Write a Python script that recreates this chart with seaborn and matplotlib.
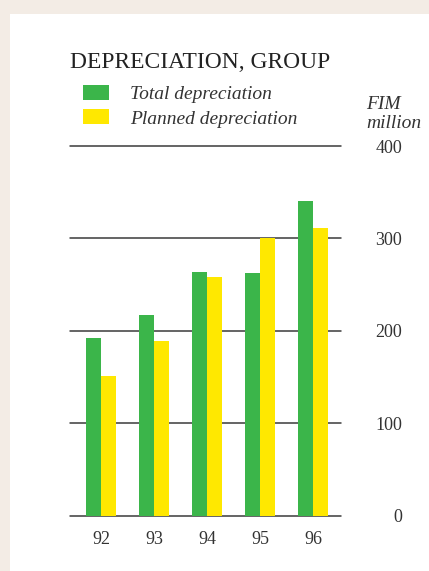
import numpy as np
import pandas as pd
import seaborn as sns
import matplotlib.pyplot as plt
from matplotlib.patches import Rectangle

# Group depreciation, FIM million
years = ["92", "93", "94", "95", "96"]
total_depreciation = [192, 217, 264, 263, 341]
planned_depreciation = [151, 189, 258, 300, 311]
series_names = ["Total depreciation", "Planned depreciation"]
y_ticks = [0, 100, 200, 300, 400]

GREEN = "#3BB54A"
YELLOW = "#FFE800"

df = pd.DataFrame({
    "year": years * 2,
    "value": total_depreciation + planned_depreciation,
    "series": [series_names[0]] * len(years) + [series_names[1]] * len(years),
})

sns.set_theme(style="white")
plt.rcParams["font.family"] = ["Liberation Serif", "DejaVu Serif"]

W, H = 429, 571
fig = plt.figure(figsize=(W / 100, H / 100), dpi=100, facecolor="#F3ECE5")
fig.patches.append(Rectangle((10 / W, 0), 1, (H - 14) / H, transform=fig.transFigure,
                             facecolor="white", edgecolor="none", zorder=-10))

y0_px, y400_px = 515.7, 146.0
ax = fig.add_axes([70 / W, (H - y0_px) / H, 271 / W, (y0_px - y400_px) / H])
ax.set_facecolor("none")

sns.barplot(data=df, x="year", y="value", hue="series", hue_order=series_names,
            palette=[GREEN, YELLOW], width=0.566, gap=0, saturation=1,
            linewidth=0, edgecolor="none", ax=ax, legend=True, zorder=2)

ax.set_xlim(-0.585, 4.53)
ax.set_ylim(0, 400)
ax.set_yticks(y_ticks)
ax.set_axisbelow(True)
ax.grid(axis="y", color="#3a3a3a", linewidth=1.1)
ax.grid(axis="x", visible=False)
for gl in ax.get_ygridlines():
    gl.set_clip_on(False)
for s in ax.spines.values():
    s.set_visible(False)

ax.yaxis.tick_right()
ax.tick_params(axis="y", length=0, pad=44, labelsize=13, colors="#333333")
for lab in ax.get_yticklabels():
    lab.set_horizontalalignment("right")
ax.tick_params(axis="x", length=0, pad=11, labelsize=13, colors="#333333")
ax.set_xlabel("")
ax.set_ylabel("")

# legend in the header area
handles, labels = ax.get_legend_handles_labels()
ax.legend(handles, labels, loc="upper left", bbox_to_anchor=(83 / W, 1 - 85 / H),
          bbox_transform=fig.transFigure, frameon=False,
          prop={"family": ["Liberation Serif", "DejaVu Serif"], "style": "italic", "size": 14},
          handlelength=1.34, handleheight=0.8, handletextpad=1.08,
          labelspacing=0.32, borderpad=0, borderaxespad=0, labelcolor="#333333")

fig.text(70 / W, 1 - 68 / H, "DEPRECIATION, GROUP", fontsize=16.9, color="#222222",
         ha="left", va="baseline")
fig.text(366 / W, 1 - 109 / H, "FIM", fontsize=14, style="italic", color="#333333",
         ha="left", va="baseline")
fig.text(366 / W, 1 - 128 / H, "million", fontsize=14, style="italic", color="#333333",
         ha="left", va="baseline")

fig.savefig("out.png", dpi=100, facecolor=fig.get_facecolor())
